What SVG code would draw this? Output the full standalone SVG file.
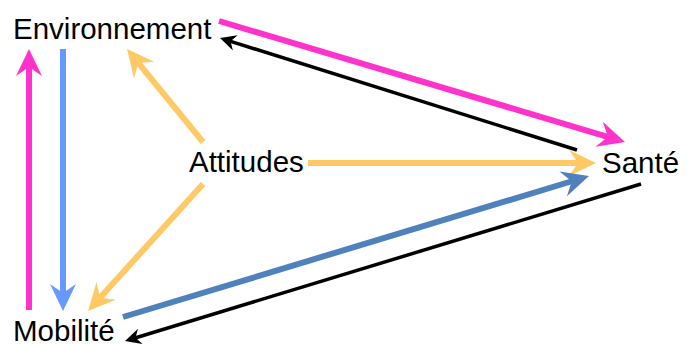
<svg xmlns="http://www.w3.org/2000/svg" width="693" height="344" viewBox="0 0 693 344">
<style>
.lbl{font-family:"Liberation Sans",Arial,sans-serif;font-size:29.5px;fill:#000}
.c{fill:none;stroke-linecap:butt}
.pink{stroke:#FF33CC;stroke-width:6}
.lblue{stroke:#6699FF;stroke-width:6}
.orange{stroke:#FFC966;stroke-width:6}
.dblue{stroke:#4F81BD;stroke-width:6}
.black{stroke:#000;stroke-width:3.5}
</style>
<defs>
<marker id="mPink" markerUnits="userSpaceOnUse" viewBox="-28 -14 30 28" markerWidth="30" markerHeight="28" refX="-12" refY="0" orient="auto"><path d="M0,0 L-27,-13 L-18,0 L-27,13 Z" fill="#FF33CC"/></marker>
<marker id="mLblue" markerUnits="userSpaceOnUse" viewBox="-28 -14 30 28" markerWidth="30" markerHeight="28" refX="-12" refY="0" orient="auto"><path d="M0,0 L-27,-13 L-18,0 L-27,13 Z" fill="#6699FF"/></marker>
<marker id="mOrange" markerUnits="userSpaceOnUse" viewBox="-28 -14 30 28" markerWidth="30" markerHeight="28" refX="-12" refY="0" orient="auto"><path d="M0,0 L-27,-13 L-18,0 L-27,13 Z" fill="#FFC966"/></marker>
<marker id="mDblue" markerUnits="userSpaceOnUse" viewBox="-28 -14 30 28" markerWidth="30" markerHeight="28" refX="-12" refY="0" orient="auto"><path d="M0,0 L-27,-13 L-18,0 L-27,13 Z" fill="#4F81BD"/></marker>
<marker id="mBlack" markerUnits="userSpaceOnUse" viewBox="-18 -9 20 18" markerWidth="20" markerHeight="18" refX="-7" refY="0" orient="auto"><path d="M0,0 L-16,-8 L-11,0 L-16,8 Z" fill="#000"/></marker>
</defs>
<g id="connectors">
<line class="c pink" x1="29" y1="310" x2="29" y2="61" marker-end="url(#mPink)"/>
<line class="c lblue" x1="63" y1="49" x2="63" y2="299" marker-end="url(#mLblue)"/>
<line class="c orange" x1="203" y1="142" x2="134.6" y2="58.3" marker-end="url(#mOrange)"/>
<line class="c orange" x1="203" y1="184" x2="96.1" y2="302.1" marker-end="url(#mOrange)"/>
<line class="c orange" x1="308" y1="163" x2="584" y2="163" marker-end="url(#mOrange)"/>
<line class="c pink" x1="219" y1="21" x2="613.5" y2="138.6" marker-end="url(#mPink)"/>
<line class="c black" x1="577" y1="150" x2="226.7" y2="40.1" marker-end="url(#mBlack)"/>
<line class="c dblue" x1="123" y1="317" x2="577.5" y2="179.5" marker-end="url(#mDblue)"/>
<line class="c black" x1="641" y1="184" x2="131.7" y2="339" marker-end="url(#mBlack)"/>
</g>
<g id="environnement"><text class="lbl" x="13" y="39">Environnement</text></g>
<g id="attitudes"><text class="lbl" x="189" y="172">Attitudes</text></g>
<g id="sante"><text class="lbl" x="602" y="173">Santé</text></g>
<g id="mobilite"><text class="lbl" x="13" y="341">Mobilité</text></g>
</svg>
